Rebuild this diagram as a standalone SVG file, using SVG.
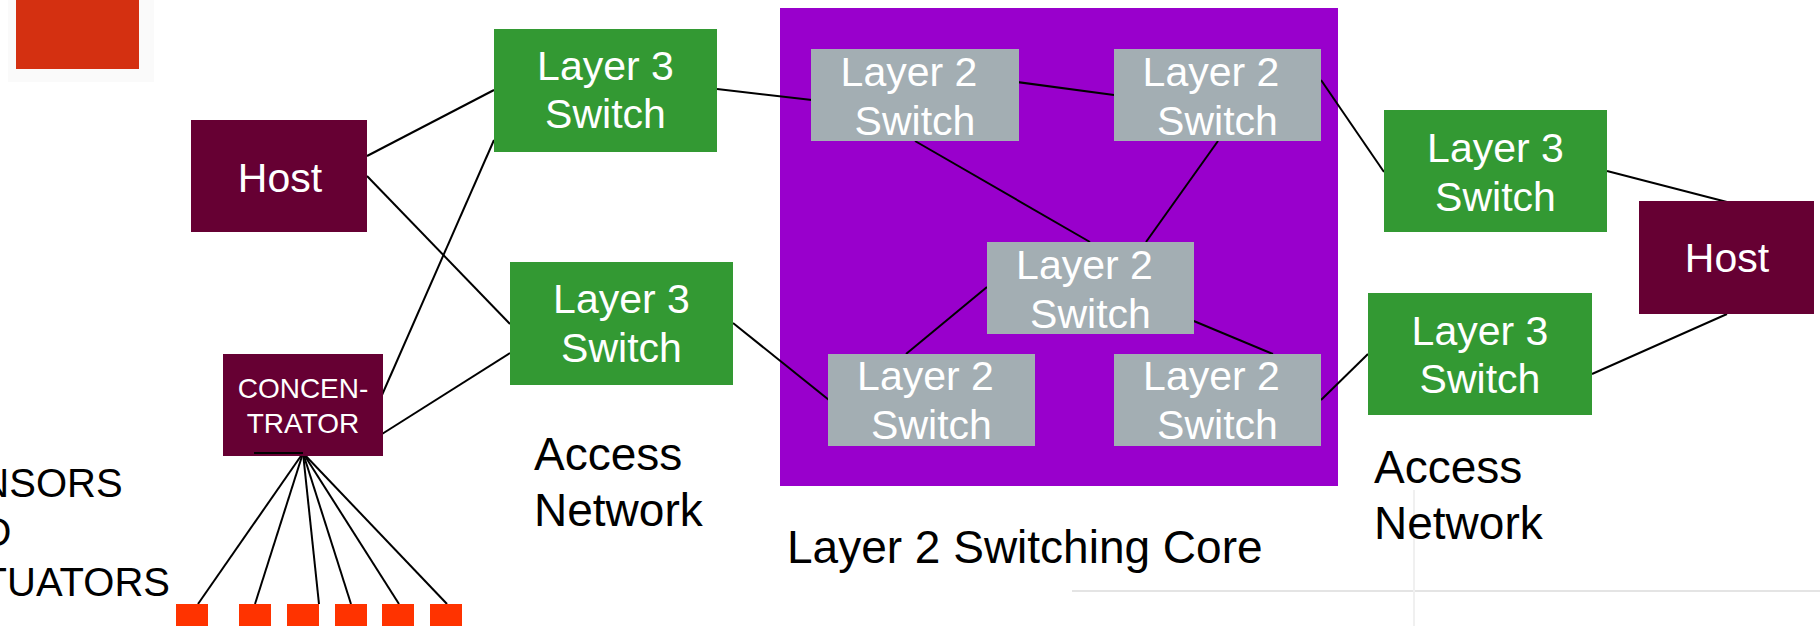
<svg xmlns="http://www.w3.org/2000/svg" width="1820" height="626" viewBox="0 0 1820 626">
<style>
text{font-family:"Liberation Sans",Arial,sans-serif}
.l3{fill:#339933}
.l2{fill:#A3AEB3}
.host{fill:#660033}
.bt{fill:#fff;font-size:41px;text-anchor:middle}
.lbl{fill:#000;font-size:46px}
.conn line{stroke:#000;stroke-width:2}
.sensor{fill:#FF3300}
</style>
<rect width="1820" height="626" fill="#fff"/>
<!-- faint slide artefacts -->
<line x1="1072" y1="591" x2="1820" y2="591" stroke="#e4e4e4" stroke-width="2"/>
<line x1="1414" y1="490" x2="1414" y2="626" stroke="#f0f0f0" stroke-width="2"/>
<rect x="8" y="0" width="146" height="82" fill="#fafafa"/>
<rect id="logo" x="16" y="0" width="123" height="69" fill="#D43011"/>
<g id="core">
<rect x="780" y="8" width="558" height="478" fill="#9900CC"/>
</g>
<g class="conn" id="connectors">
<line x1="367" y1="156" x2="494" y2="90"/>
<line x1="367" y1="176" x2="510" y2="324"/>
<line x1="382" y1="395" x2="494" y2="140"/>
<line x1="382" y1="434" x2="510" y2="353"/>
<line x1="717" y1="89" x2="812" y2="100"/>
<line x1="1002" y1="80" x2="1114" y2="95"/>
<line x1="915" y1="141" x2="1090" y2="242"/>
<line x1="1218" y1="141" x2="1146" y2="242"/>
<line x1="733" y1="323" x2="829" y2="400"/>
<line x1="987" y1="287" x2="906" y2="354"/>
<line x1="1177" y1="314" x2="1273" y2="354"/>
<line x1="1321" y1="80" x2="1384" y2="172"/>
<line x1="1321" y1="400" x2="1368" y2="354"/>
<line x1="1607" y1="171" x2="1727" y2="202"/>
<line x1="1727" y1="314" x2="1592" y2="374"/>
<line x1="303" y1="453" x2="198" y2="604"/>
<line x1="303" y1="453" x2="255" y2="604"/>
<line x1="303" y1="453" x2="319" y2="604"/>
<line x1="303" y1="453" x2="351" y2="604"/>
<line x1="303" y1="453" x2="399" y2="604"/>
<line x1="303" y1="453" x2="447" y2="604"/>
</g>
<g id="host-left">
<rect class="host" x="191" y="120" width="176" height="112"/>
<text class="bt" x="280" y="192">Host</text>
</g>
<g id="concentrator">
<rect class="host" x="223" y="354" width="160" height="102"/>
<text class="bt" x="303" y="398" style="font-size:28px">CONCEN-</text>
<text class="bt" x="303" y="433" style="font-size:28px">TRATOR</text>
<line x1="254" y1="453" x2="303" y2="453" stroke="#000" stroke-width="2"/>
</g>
<g id="sensors">
<rect class="sensor" x="176" y="604" width="32" height="22"/>
<rect class="sensor" x="239" y="604" width="32" height="22"/>
<rect class="sensor" x="287" y="604" width="32" height="22"/>
<rect class="sensor" x="335" y="604" width="32" height="22"/>
<rect class="sensor" x="382" y="604" width="32" height="22"/>
<rect class="sensor" x="430" y="604" width="32" height="22"/>
</g>
<g id="sensors-label">
<text class="lbl" x="-73" y="497" style="font-size:40px">SENSORS</text>
<text class="lbl" x="-73" y="546" style="font-size:40px">AND</text>
<text class="lbl" x="-73" y="596" style="font-size:40px">ACTUATORS</text>
</g>
<g id="l3-top-left">
<rect class="l3" x="494" y="29" width="223" height="123"/>
<text class="bt" x="605.5" y="80">Layer 3</text>
<text class="bt" x="605.5" y="128">Switch</text>
</g>
<g id="l3-bottom-left">
<rect class="l3" x="510" y="262" width="223" height="123"/>
<text class="bt" x="621.5" y="313">Layer 3</text>
<text class="bt" x="621.5" y="362">Switch</text>
</g>
<g id="l2-top-left">
<rect class="l2" x="811" y="49" width="208" height="92"/>
<text class="bt" x="909" y="86">Layer 2</text>
<text class="bt" x="915" y="135">Switch</text>
</g>
<g id="l2-top-right">
<rect class="l2" x="1114" y="49" width="207" height="92"/>
<text class="bt" x="1211" y="86">Layer 2</text>
<text class="bt" x="1217.5" y="135">Switch</text>
</g>
<g id="l2-center">
<rect class="l2" x="987" y="242" width="207" height="92"/>
<text class="bt" x="1084.5" y="279">Layer 2</text>
<text class="bt" x="1090.5" y="328">Switch</text>
</g>
<g id="l2-bottom-left">
<rect class="l2" x="828" y="354" width="207" height="92"/>
<text class="bt" x="925.5" y="390">Layer 2</text>
<text class="bt" x="931.5" y="439">Switch</text>
</g>
<g id="l2-bottom-right">
<rect class="l2" x="1114" y="354" width="207" height="92"/>
<text class="bt" x="1211.5" y="390">Layer 2</text>
<text class="bt" x="1217.5" y="439">Switch</text>
</g>
<g id="l3-top-right">
<rect class="l3" x="1384" y="110" width="223" height="122"/>
<text class="bt" x="1495.5" y="162">Layer 3</text>
<text class="bt" x="1495.5" y="211">Switch</text>
</g>
<g id="l3-bottom-right">
<rect class="l3" x="1368" y="293" width="224" height="122"/>
<text class="bt" x="1480" y="345">Layer 3</text>
<text class="bt" x="1480" y="393">Switch</text>
</g>
<g id="host-right">
<rect class="host" x="1639" y="201" width="175" height="113"/>
<text class="bt" x="1727" y="272">Host</text>
</g>
<g id="labels">
<text class="lbl" x="534" y="470">Access</text>
<text class="lbl" x="534" y="526">Network</text>
<text class="lbl" x="787" y="563">Layer 2 Switching Core</text>
<text class="lbl" x="1374" y="483">Access</text>
<text class="lbl" x="1374" y="539">Network</text>
</g>
</svg>
